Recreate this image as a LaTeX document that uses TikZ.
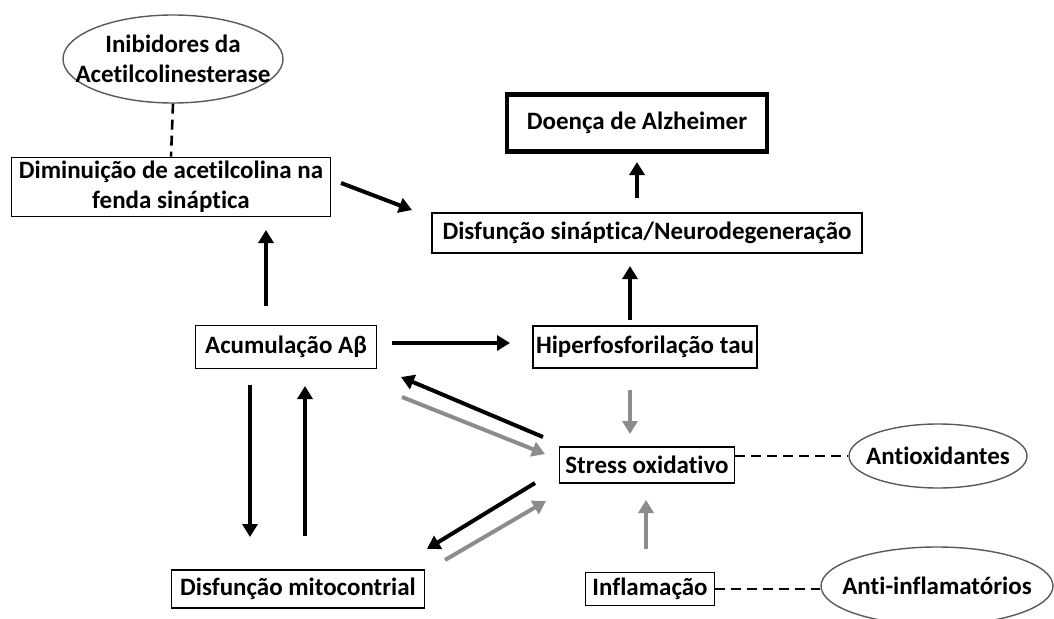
\documentclass[tikz,border=0pt]{standalone}
\usepackage{fontspec}
\setmainfont{Carlito}[Ligatures=NoCommon]
\usetikzlibrary{arrows.meta,shapes.geometric}
\begin{document}
\begin{tikzpicture}[x=1pt,y=-1pt,
  txt/.style={font=\fontsize{25}{30}\selectfont\bfseries,align=center,inner sep=0pt},
  box/.style={txt,draw,line width=1.8pt,minimum width=#1},
  oval/.style={ellipse,draw=black!65,line width=1.4pt,inner sep=0pt},
  blk/.style={line width=4pt,-{Triangle[length=13pt,width=15pt]}},
  gry/.style={blk,draw=black!45,color=black!45},
  dsh/.style={line width=2.6pt,dash pattern=on 10pt off 6pt}]
\useasboundingbox (0,0) rectangle (1054,618);
% nodes
\node[oval,minimum width=220pt,minimum height=88pt,label={[txt]center:Inibidores da\\Acetilcolinesterase}] (inib) at (173,59) {};
\node[box=319pt,minimum height=59pt] (dimin) at (171,187) {Diminuição de acetilcolina na\\fenda sináptica};
\node[box=260pt,minimum height=57pt,line width=4.5pt] (alz) at (637,123) {Doença de Alzheimer};
\node[box=430pt,minimum height=40pt] (disf) at (647,233) {Disfunção sináptica/Neurodegeneração};
\node[box=181pt,minimum height=43pt] (acum) at (286,347) {Acumulação Aβ};
\node[box=224pt,minimum height=42pt] (hiper) at (645,347) {Hiperfosforilação tau};
\node[box=175pt,minimum height=36pt] (stress) at (647,465) {Stress oxidativo};
\node[box=129pt,minimum height=33pt] (infl) at (650,589) {Inflamação};
\node[box=253pt,minimum height=38pt] (mito) at (298,589) {Disfunção mitocontrial};
\node[oval,minimum width=178pt,minimum height=64pt,label={[txt]center:Antioxidantes}] (antiox) at (938,456) {};
\node[oval,minimum width=232pt,minimum height=78pt,label={[txt]center:Anti-inflamatórios}] (antiinf) at (937,586) {};
% free arrow ends
\coordinate (a1s) at (637,198); \coordinate (a1e) at (637,162);
\coordinate (a2s) at (630,320); \coordinate (a2e) at (630,266);
\coordinate (a3s) at (341,183); \coordinate (a3e) at (412,210);
\coordinate (a4s) at (266,306); \coordinate (a4e) at (266,230);
\coordinate (a5s) at (392,343); \coordinate (a5e) at (510,343);
\coordinate (a6s) at (630,390); \coordinate (a6e) at (630,434);
\coordinate (a7s) at (646,549); \coordinate (a7e) at (646,500);
\coordinate (a8s) at (543,437); \coordinate (a8e) at (401,377);
\coordinate (a9s) at (402,397); \coordinate (a9e) at (545,454);
\coordinate (b1s) at (535,483); \coordinate (b1e) at (427,549);
\coordinate (b2s) at (445,560); \coordinate (b2e) at (546,501);
\coordinate (b3s) at (250,385); \coordinate (b3e) at (250,537);
\coordinate (b4s) at (305,536); \coordinate (b4e) at (305,386);
% connectors
\draw[blk] (a1s) -- (a1e);
\draw[blk] (a2s) -- (a2e);
\draw[blk] (a3s) -- (a3e);
\draw[blk] (a4s) -- (a4e);
\draw[blk] (a5s) -- (a5e);
\draw[gry] (a6s) -- (a6e);
\draw[gry] (a7s) -- (a7e);
\draw[blk] (a8s) -- (a8e);
\draw[gry] (a9s) -- (a9e);
\draw[blk] (b1s) -- (b1e);
\draw[gry] (b2s) -- (b2e);
\draw[blk] (b3s) -- (b3e);
\draw[blk] (b4s) -- (b4e);
\draw[dsh] (inib.south) -- (dimin.north);
\draw[dsh] (stress.east |- antiox.west) -- (antiox.west);
\draw[dsh] (infl.east) -- (infl.east -| antiinf.west);
\end{tikzpicture}
\end{document}
